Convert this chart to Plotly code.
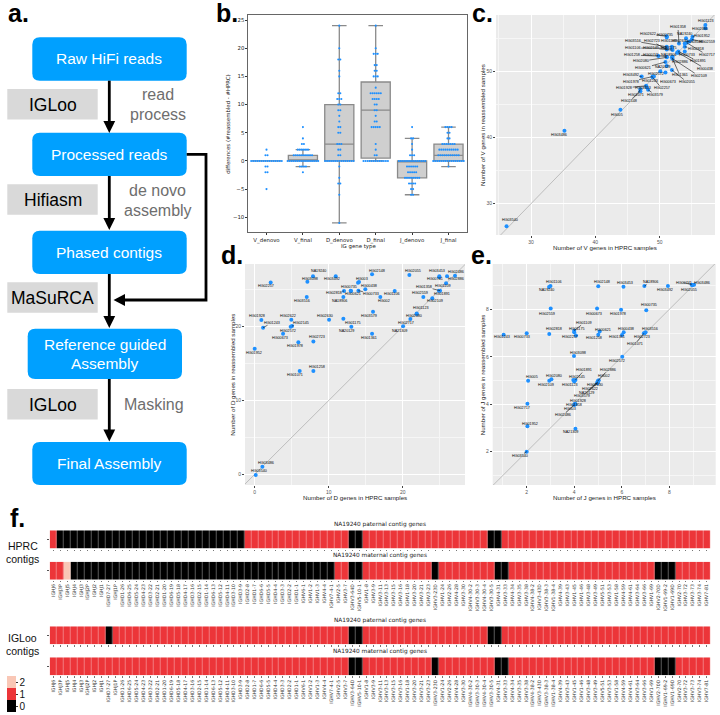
from collections import Counter
import plotly.graph_objects as go

W, H = 720, 715
SANS = "Liberation Sans"
DEJA = "DejaVu Sans"
BLUE = "#1E90FF"
FLOW_BLUE = "#00A0FF"
GREY_BOX = "#D9D9D9"
RED = "#EC3539"
LIGHT = "#F9C7B6"

# ---------- panel b ----------
IG_TYPES = ["V_denovo", "V_final", "D_denovo", "D_final", "J_denovo", "J_final"]
BOX_Q1 = [0, 0, 0, 0.5, -3, 0]
BOX_MEDIAN = [0, 0, 3, 9, 0, 1]
BOX_Q3 = [0, 1, 10, 14, 0, 3]
BOX_LOW = [0, -1, -11, 0, -6, -1]
BOX_HIGH = [0, 2, 24, 24, 4, 6]
V_DENOVO = [2, 1, 1, 0, 0, 0, 0, 0, 0, 0, 0, 0, 0, 0, 0, 0, 0, 0, 0, -1, -1, -2, -2, -5]
V_FINAL = [6, 4, 3, 3, 2, 2, 2, 2, 2, 2, 1, 1, 1, 1, 1, 1, 1, 1, 1, 1,
           0, 0, 0, 0, 0, 0, 0, 0, 0, 0, 0, 0, 0, 0, 0, 0, -1, -1, -1, -1, -2]
D_DENOVO = [24, 20, 18, 18, 16, 15, 12, 12, 11, 11, 11, 10, 10, 9, 9, 8, 7, 6, 6, 5, 5,
            3, 3, 3, 2, 2, 1, 1, 0, 0, 0, 0, 0, 0, 0, 0, 0, 0, 0, 0, 0, 0, 0,
            -1, -3, -4, -4, -6, -11]
D_FINAL = [24, 20, 19, 19, 19, 17, 17, 16, 16, 15, 15, 15, 13, 12, 12, 12, 12, 12, 12,
           11, 11, 11, 11, 10, 10, 9, 9, 8, 7, 7, 6, 6, 6, 6, 6, 3, 2, 1, 1,
           0, 0, 0, 0, 0, 0, 0, 0, 0, 0, 0, 0, 0]
J_DENOVO = [6, 4, 4, 3, 2, 1, 1, 1, 0, 0, 0, 0, 0, 0, 0, 0, 0, 0, 0, 0, 0, 0,
            -1, -1, -1, -1, -1, -1, -2, -2, -2, -2, -2, -3, -3, -3, -3, -3, -3, -3, -3,
            -4, -4, -4, -4, -5, -5, -6, -6]
J_FINAL = [6, 6, 6, 6, 5, 5, 4, 4, 3, 3, 3, 3, 3, 3, 3, 2, 2, 2, 2, 2, 2, 2, 2, 2, 2,
           1, 1, 1, 1, 1, 1, 1, 1, 1, 1, 1, 0, 0, 0, 0, 0, 0, 0, 0, 0, 0, 0, 0, 0, 0, 0, 0, -1]
SWARMS = [V_DENOVO, V_FINAL, D_DENOVO, D_FINAL, J_DENOVO, J_FINAL]

# ---------- panel c ----------
C_SAMPLES = ["HG01123", "HG02486", "HG01952", "HG02559", "HG03098", "HG01358", "NA19240", "HG02622",
             "HG00735", "HG01109", "HG02630", "HG03516", "HG02723", "HG01106", "HG02145", "HG01175",
             "HG02818", "HG02717", "HG01258", "HG00741", "NA18906", "HG00733", "HG02080", "HG01891",
             "HG02886", "HG00438", "HG02109", "HG01361", "HG00621", "NA20129", "HG03492", "HG02572",
             "HG02055", "HG00673", "HG01978", "HG01243", "HG02257", "HG01928", "HG03453", "HG01071",
             "HG03579", "HG02148", "HG005", "HG03486", "HG03540"]
C_HPRC = [57.1, 57.1, 55.1, 55.0, 54.6, 53.0, 54.1, 51.1, 51.1, 51.9, 53.9, 51.1, 51.1, 51.1, 52.0, 51.9,
          53.9, 54.2, 49.8, 51.1, 52.0, 53.9, 51.1, 52.9, 52.7, 52.9, 52.0, 51.9, 50.9, 51.1, 47.2, 50.1,
          51.9, 50.9, 48.9, 49.1, 48.9, 47.9, 48.0, 47.0, 48.2, 47.0, 43.9, 35.2, 26.2]
C_REASM = [57.0, 56.5, 55.2, 54.8, 54.5, 54.2, 55.0, 55.3, 55.1, 53.7, 54.2, 53.7, 53.3, 53.5, 53.2, 53.4,
           53.7, 54.3, 52.3, 52.2, 52.2, 53.0, 52.1, 53.0, 52.8, 52.8, 51.9, 52.1, 51.4, 50.8, 49.2, 50.0,
           50.2, 49.8, 49.2, 49.2, 49.1, 47.8, 47.6, 47.3, 47.2, 47.0, 44.2, 41.0, 26.6]
C_DX = [1, -5, 10, 15, 6, -1, -2, -19, -2, -3, -5, -34, -15, -34, -22, -3,
        11, 20, -26, -16, -4, 2, -26, 20, 3, 27, 26, 8, -22, -4, -11, -4,
        15, 3, -22, -4, 9, -22, -4, -4, 7, -11, -3, -5, 3]
C_DY = [-4, 1, -1, 3, 1, -16, -4, -2, -3, -6, -2, -6, -8, 0, -2, -1,
        2, 12, -1, -2, -2, 4, 4, 10, 9, 16, 17, 18, 6, 1, -2, 3,
        12, 9, 5, 4, 11, 2, 1, 6, 5, 10, 5, 4, -6]

# ---------- panel d ----------
D_SAMPLES = ["HG02257", "NA19240", "HG03098", "HG03492", "HG02148", "HG03516", "HG01928", "HG01243",
             "HG02622", "HG02145", "HG02572", "HG00673", "HG01978", "HG02723", "HG01952", "HG01258",
             "HG01071", "HG02630", "HG00735", "HG02818", "NA18906", "HG00621", "HG003", "", "HG00438",
             "HG00733", "HG01106", "HG002", "HG03579", "HG01175", "NA20129", "HG01361", "HG02055",
             "HG03453", "HG00741", "HG02486", "HG02886", "HG01109", "HG01358", "HG01891", "HG02559",
             "HG02109", "HG01123", "HG02080", "HG02717", "NA21309", "HG03540", "HG03486"]
D_HPRC = [2.16, 7.88, 7.12, 10.95, 15.86, 7.03, 0.9, 1.13, 4.95, 5.05, 4.86, 3.83, 5.9, 7.93, 0.0, 7.93,
          6.08, 10.05, 12.97, 12.07, 11.98, 13.02, 14.1, 13.96, 14.95, 14.01, 18.92, 16.98, 15.99, 11.98,
          13.06, 15.86, 20.9, 24.95, 24.95, 27.07, 25.99, 25.86, 25.05, 24.9, 22.79, 24.0, 21.89, 21.89,
          21.04, 20.05, 0.14, 1.04]
D_REASM = [26.0, 26.82, 26.1, 26.82, 27.09, 24.02, 20.9, 19.86, 20.95, 20.09, 20.0, 19.05, 17.88, 18.01,
           17.02, 14.0, 14.0, 20.95, 24.88, 24.83, 24.02, 24.83, 26.05, 25.96, 25.06, 24.88, 24.83, 24.02,
           22.03, 21.08, 20.0, 19.05, 27.0, 26.82, 26.68, 26.91, 26.82, 25.87, 24.88, 24.88, 24.02, 23.84,
           21.8, 21.72, 21.04, 20.05, -0.09, 1.04]
D_DX = [-5, 5, 3, -4, 5, -5, -4, 9, -3, 9, -3, -3, -3, 4, -1, 4, -5, -4, -2, -10, -4, 2, 3, 0, 4, 13,
        -3, 4, -4, 10, -5, -3, 4, -2, -4, 1, 9, -3, -16, 3, -3, 3, 4, -3, -4, -4, 3, 4]
D_DY = [4, -5, -3, 3, -3, 4, -4, -5, -4, -3, 4, 4, 4, -4, 4, -4, 4, -4, -4, 2, 4, 3, -3, 0, -3, 3,
        3, 4, 4, 4, 4, 4, -4, -5, 2, -4, 3, 3, -4, 3, -4, 3, -5, 2, 4, 5, -4, -4]

# ---------- panel e ----------
E_SAMPLES = ["HG01106", "NA19240", "HG02148", "HG03453", "NA18906", "HG03492", "HG00741", "HG03486",
             "HG02055", "HG02559", "HG00673", "HG01978", "HG00735", "HG01175", "HG01109", "HG02257",
             "HG02818", "HG01243", "HG00733", "HG00621", "HG01258", "HG00438", "HG01361", "HG03516",
             "HG02723", "HG01071", "HG03098", "HG02572", "HG005", "HG02080", "HG02109", "HG02145",
             "HG02717", "HG01123", "HG01891", "HG02886", "HG002", "HG02630", "HG02622", "NA20129",
             "HG03579", "HG01928", "HG01358", "HG003", "HG02486", "HG03540", "HG01952", "NA21309"]
E_HPRC = [3.0, 2.94, 5.01, 6.07, 6.95, 7.94, 8.94, 9.04, 8.97, 3.01, 4.96, 5.97, 7.03, 4.0, 4.0, 4.07,
          2.95, 1.03, 2.0, 5.07, 5.01, 6.08, 6.01, 7.0, 6.96, 6.93, 3.99, 6.02, 2.06, 3.04, 2.95, 3.96,
          2.03, 4.0, 4.05, 4.99, 5.03, 4.99, 4.97, 5.0, 4.97, 4.03, 4.05, 4.02, 4.0, 2.0, 2.03, 4.05]
E_REASM = [8.98, 8.94, 8.97, 8.95, 8.98, 8.98, 9.04, 9.04, 9.01, 8.03, 8.03, 7.98, 7.96, 7.03, 7.1, 6.9,
           6.96, 6.93, 6.99, 7.06, 6.93, 7.03, 6.92, 7.03, 6.99, 6.99, 6.03, 6.0, 4.99, 5.05, 4.99, 5.02,
           4.02, 4.96, 5.02, 4.98, 5.01, 4.95, 4.91, 4.95, 4.88, 4.02, 4.0, 4.0, 3.97, 2.0, 3.07, 2.97]
E_DX = [4, -3, 4, 2, 6, -3, -8, 8, -3, -4, -3, -3, 3, 3, 10, -6, 5, -2, -5, 3, -4, 2, -5, 4, -3, -9, 4, -5,
        4, 3, -3, 4, -5, -4, 9, 10, 5, -3, -7, -12, -15, 3, -1, -5, -11, -7, 3, -5]
E_DY = [-4, 3, -4, -4, -4, 4, -2, -2, 5, 5, 5, 4, -5, -3, -8, 2, -5, 2, 4, -2, 3, -3, 2, -3, 4, 11, -3, 4,
        -4, -3, 4, -3, 4, 4, -10, -11, -4, 3, 6, 11, 13, -3, 1, 5, 10, 4, -2, 3]

# ---------- panel f ----------
GENES = ["IGHJ6", "IGHJ3P", "IGHJ5", "IGHJ4", "IGHJ3", "IGHJ2P", "IGHJ2", "IGHJ1", "IGHD7-27", "IGHJ1P",
         "IGHD1-26", "IGHD6-25", "IGHD5-24", "IGHD4-23", "IGHD3-22", "IGHD2-21", "IGHD1-20", "IGHD6-19",
         "IGHD5-18", "IGHD4-17", "IGHD3-16", "IGHD2-15", "IGHD1-14", "IGHD6-13", "IGHD5-12", "IGHD4-11",
         "IGHD3-10", "IGHD3-9", "IGHD2-8", "IGHD1-7", "IGHD6-6", "IGHD5-5", "IGHD4-4", "IGHD3-3", "IGHD2-2",
         "IGHD1-1", "IGHV6-1", "IGHV1-2", "IGHV1-3", "IGHV4-4", "IGHV7-4-1", "IGHV2-5", "IGHV3-7", "IGHV3-64D",
         "IGHV5-10-1", "IGHV1-8", "IGHV3-9", "IGHV3-11", "IGHV3-13", "IGHV3-15", "IGHV3-16", "IGHV1-18",
         "IGHV3-20", "IGHV3-21", "IGHV3-23", "IGHV3-23D", "IGHV1-24", "IGHV2-26", "IGHV4-28", "IGHV3-30",
         "IGHV4-30-2", "IGHV3-30-3", "IGHV4-30-4", "IGHV3-30-5", "IGHV4-31", "IGHV3-33", "IGHV4-34", "IGHV3-35",
         "IGHV3-38", "IGHV4-38-2", "IGHV3-43D", "IGHV3-38-3", "IGHV1-38-4", "IGHV4-39", "IGHV3-43", "IGHV1-45",
         "IGHV1-46", "IGHV3-48", "IGHV3-49", "IGHV5-51", "IGHV3-53", "IGHV1-58", "IGHV4-59", "IGHV4-61",
         "IGHV3-64", "IGHV3-66", "IGHV1-69", "IGHV2-70D", "IGHV1-69-2", "IGHV1-69D", "IGHV2-70", "IGHV3-72",
         "IGHV3-73", "IGHV3-74", "IGHV7-81"]
HPRC_PATERNAL = [1, 0, 0, 0, 0, 0, 0, 0, 0, 0,
                 0, 0, 0, 0, 0, 0, 0, 0, 0, 0,
                 0, 0, 0, 0, 0, 0, 0, 0, 1, 1,
                 1, 1, 1, 1, 1, 1, 1, 1, 1, 1,
                 1, 1, 1, 0, 0, 1, 1, 1, 1, 1,
                 1, 1, 1, 1, 1, 1, 1, 1, 1, 1,
                 1, 1, 1, 0, 0, 1, 1, 1, 1, 1,
                 1, 1, 1, 1, 1, 1, 1, 1, 1, 1,
                 1, 1, 1, 1, 1, 1, 1, 1, 1, 1,
                 1, 1, 1, 1, 1]
HPRC_MATERNAL = [1, 1, 2, 0, 0, 0, 0, 0, 0, 0,
                 0, 0, 0, 0, 0, 0, 0, 0, 0, 0,
                 0, 0, 0, 0, 0, 0, 0, 0, 0, 0,
                 0, 0, 0, 0, 0, 0, 0, 0, 0, 0,
                 0, 1, 1, 0, 0, 1, 1, 1, 1, 1,
                 1, 1, 1, 1, 1, 0, 1, 1, 1, 1,
                 1, 1, 1, 1, 0, 0, 1, 1, 1, 1,
                 1, 1, 1, 1, 1, 1, 1, 1, 1, 1,
                 1, 1, 1, 1, 1, 1, 1, 0, 0, 0,
                 1, 1, 1, 1, 1]
IGLOO_PATERNAL = [1, 1, 1, 1, 1, 1, 1, 1, 0, 1,
                  1, 1, 1, 1, 1, 1, 1, 1, 1, 1,
                  1, 1, 1, 1, 1, 1, 1, 1, 1, 1,
                  1, 1, 1, 1, 1, 1, 1, 1, 1, 1,
                  1, 1, 1, 0, 0, 1, 1, 1, 1, 1,
                  1, 1, 1, 1, 1, 1, 1, 1, 1, 1,
                  1, 1, 1, 0, 0, 1, 1, 1, 1, 1,
                  1, 1, 1, 1, 1, 1, 1, 1, 1, 1,
                  1, 1, 1, 1, 1, 1, 1, 1, 1, 1,
                  1, 1, 1, 1, 1]
IGLOO_MATERNAL = [1, 1, 1, 1, 1, 1, 1, 1, 1, 1,
                  1, 1, 1, 1, 1, 1, 1, 1, 1, 1,
                  1, 1, 1, 1, 1, 1, 1, 1, 1, 1,
                  1, 1, 1, 1, 1, 1, 1, 1, 1, 1,
                  1, 1, 1, 0, 0, 1, 1, 1, 1, 1,
                  1, 1, 1, 1, 1, 0, 1, 1, 1, 1,
                  1, 1, 1, 1, 0, 0, 1, 1, 1, 1,
                  1, 1, 1, 1, 1, 1, 1, 1, 1, 1,
                  1, 1, 1, 1, 1, 1, 1, 0, 0, 0,
                  1, 1, 1, 1, 1]


def X(px):
    return px / W


def Y(py):
    return 1 - py / H


def dom(l, t, r, b):
    return dict(domain=[X(l), X(r)]), dict(domain=[Y(b), Y(t)])


fig = go.Figure()
annotations = []
shapes = []


def text(px, py, s, size, color="black", family=SANS, anchor="center", angle=0, bold=False):
    annotations.append(dict(
        x=X(px), y=Y(py), xref="paper", yref="paper", text=f"<b>{s}</b>" if bold else s,
        showarrow=False, xanchor=anchor, yanchor="middle", textangle=angle,
        font=dict(size=size, color=color, family=family), borderpad=0))


# ---------- a: flowchart ----------
def round_rect(l, t, r, b, rad=7.5):
    p = [f"M {X(l+rad)} {Y(t)}", f"L {X(r-rad)} {Y(t)}", f"Q {X(r)} {Y(t)} {X(r)} {Y(t+rad)}",
         f"L {X(r)} {Y(b-rad)}", f"Q {X(r)} {Y(b)} {X(r-rad)} {Y(b)}", f"L {X(l+rad)} {Y(b)}",
         f"Q {X(l)} {Y(b)} {X(l)} {Y(b-rad)}", f"L {X(l)} {Y(t+rad)}", f"Q {X(l)} {Y(t)} {X(l+rad)} {Y(t)} Z"]
    shapes.append(dict(type="path", path=" ".join(p), xref="paper", yref="paper",
                       fillcolor=FLOW_BLUE, line=dict(width=0)))


FLOW = [(32.3, 37.3, 186.7, 80.7, ["Raw HiFi reads"]),
        (32.3, 132.7, 186.7, 176, ["Processed reads"]),
        (32.3, 230.7, 186.7, 274, ["Phased contigs"]),
        (27.7, 328.7, 182, 379, ["Reference guided", "Assembly"]),
        (32.3, 442, 186.7, 485, ["Final Assembly"])]
for l, t, r, b, lines in FLOW:
    round_rect(l, t, r, b)
    cx, cy = (l + r) / 2, (t + b) / 2
    for i, s in enumerate(lines):
        text(cx, cy + (i - (len(lines) - 1) / 2) * 19.5, s, 15.5, "white")

for t, s in [(89, "IGLoo"), (184.3, "Hifiasm"), (282.3, "MaSuRCA"), (389, "IGLoo")]:
    shapes.append(dict(type="rect", xref="paper", yref="paper", x0=X(7.3), x1=X(97.7), y0=Y(t), y1=Y(t + 30.5),
                       fillcolor=GREY_BOX, line=dict(width=0)))
    text(52.5, t + 15.5, s, 17.5)


def seg(pts):
    path = "M " + " L ".join(f"{X(x)} {Y(y)}" for x, y in pts)
    shapes.append(dict(type="path", path=path, xref="paper", yref="paper", line=dict(color="black", width=2.8)))


def head(pts):
    path = "M " + " L ".join(f"{X(x)} {Y(y)}" for x, y in pts) + " Z"
    shapes.append(dict(type="path", path=path, xref="paper", yref="paper", fillcolor="black", line=dict(width=0)))


for t, b in [(80.7, 133), (176, 230), (274, 328), (379, 441.5)]:
    seg([(109.3, t), (109.3, b - 9)])
    head([(103.4, b - 12), (115.2, b - 12), (109.3, b)])
seg([(186.7, 154.3), (206, 154.3), (206, 300), (122, 300)])
head([(125, 294), (125, 306), (113.5, 300)])

for px, py, s in [(157.7, 94.3, "read"), (157.7, 114.3, "process"), (157.7, 190.7, "de novo"),
                  (157.7, 210.7, "assembly"), (153.7, 404.3, "Masking")]:
    text(px, py, s, 16, "#6E6E6E")

# panel letters
for px, py, s in [(7, 13, "a."), (215, 13, "b."), (470.5, 13, "c."), (220, 255, "d."), (470, 255, "e."), (9, 518, "f.")]:
    text(px, py, s, 25, anchor="left", bold=True)

# ---------- b ----------
xa, ya = dom(248.3, 15, 466.7, 232.3)
lay = {}
lay["xaxis"] = dict(**xa, anchor="y", range=[-0.5, 5.5], tickvals=list(range(6)), ticktext=IG_TYPES,
                    showgrid=False, zeroline=False, showline=True, mirror=True, linecolor="#666", linewidth=0.8,
                    ticks="outside", ticklen=2, tickwidth=0.6, tickcolor="#333",
                    tickfont=dict(size=5.4, family=DEJA, color="#222"))
lay["yaxis"] = dict(**ya, anchor="x", range=[-12.66, 25.89], tickvals=[-10, -5, 0, 5, 10, 15, 20, 25],
                    ticktext=["\u221210", "\u22125", "0", "5", "10", "15", "20", "25"],
                    showgrid=False, zeroline=False, showline=True, mirror=True, linecolor="#666", linewidth=0.8,
                    ticks="outside", ticklen=2, tickwidth=0.6, tickcolor="#333",
                    tickfont=dict(size=5.4, family=DEJA, color="#222"))
for i, name in enumerate(IG_TYPES):
    fig.add_trace(go.Box(x=[i], q1=[BOX_Q1[i]], median=[BOX_MEDIAN[i]], q3=[BOX_Q3[i]],
                         lowerfence=[BOX_LOW[i]], upperfence=[BOX_HIGH[i]], width=0.8, whiskerwidth=0.5,
                         fillcolor="#CFCFCF", line=dict(color="#8A8A8A", width=1.3), boxpoints=False,
                         name=name, showlegend=False, xaxis="x", yaxis="y"))
STEP = 0.056
for i, vals in enumerate(SWARMS):
    seen = Counter()
    counts = Counter(vals)
    xs = []
    for v in vals:
        xs.append(i + (seen[v] - (counts[v] - 1) / 2) * STEP)
        seen[v] += 1
    fig.add_trace(go.Scatter(x=xs, y=vals, mode="markers", marker=dict(color=BLUE, size=2.1), showlegend=False,
                             xaxis="x", yaxis="y"))
text(358, 246.3, "IG gene type", 5.4, "#222", DEJA)
text(227.7, 124, "differences (#reassembled - #HPRC)", 5.4, "#222", DEJA, angle=-90)


# ---------- c, d, e scatter panels ----------
def scatter_panel(idx, box, xrange, yrange, xtv, ytv, minor, samples, xs, ys, dxs, dys, xt, yt, xt_pos, yt_pos):
    sfx = str(idx)
    xa, ya = dom(*box)
    common = dict(showgrid=True, gridcolor="white", gridwidth=1.1, zeroline=False, showline=False,
                  ticks="outside", ticklen=2, tickwidth=0.5, tickcolor="#444",
                  tickfont=dict(size=5, family=SANS, color="#555"),
                  minor=dict(showgrid=True, gridcolor="#F6F6F6", gridwidth=0.5, dtick=minor, tick0=0, ticks=""))
    lay["xaxis" + sfx] = dict(**xa, anchor="y" + sfx, range=xrange, tickvals=xtv, **common)
    lay["yaxis" + sfx] = dict(**ya, anchor="x" + sfx, range=yrange, tickvals=ytv, **common)
    shapes.append(dict(type="rect", xref=f"x{sfx} domain", yref=f"y{sfx} domain", x0=0, x1=1, y0=0, y1=1,
                       layer="below", fillcolor="#EBEBEB", line=dict(width=0)))
    lo, hi = min(xrange + yrange), max(xrange + yrange)
    shapes.append(dict(type="line", xref="x" + sfx, yref="y" + sfx, x0=lo, y0=lo, x1=hi, y1=hi, layer="between",
                       line=dict(color="#BDBDBD", width=1)))
    fig.add_trace(go.Scatter(x=xs, y=ys, text=samples, mode="markers", marker=dict(color=BLUE, size=4),
                             showlegend=False, xaxis="x" + sfx, yaxis="y" + sfx))
    for s, x, y, dx, dy in zip(samples, xs, ys, dxs, dys):
        if not s:
            continue
        visible = dx * dx + dy * dy > 50
        annotations.append(dict(x=x, y=y, xref="x" + sfx, yref="y" + sfx, ax=dx, ay=dy, text=s,
                                showarrow=True, arrowhead=0, arrowwidth=0.6, standoff=0, borderpad=0,
                                arrowcolor="#111" if visible else "rgba(0,0,0,0)",
                                font=dict(size=3.7, family=SANS, color="black")))
    text(*xt_pos, xt, 6.2, "#222")
    text(*yt_pos, yt, 6.2, "#222", angle=-90)


scatter_panel(2, (496, 15, 715, 235), [24.56, 58.6], [25.27, 58.5], [30, 40, 50], [30, 40, 50], 5,
              C_SAMPLES, C_HPRC, C_REASM, C_DX, C_DY,
              "Number of V genes in HPRC samples", "Number of V genes in reassembled samples",
              (605, 247.5), (483, 125))
scatter_panel(3, (245, 264, 465, 485), [-1.31, 28.42], [-1.44, 28.49], [0, 10, 20], [0, 10, 20], 5,
              D_SAMPLES, D_HPRC, D_REASM, D_DX, D_DY,
              "Number of D genes in HPRC samples", "Number of D genes in reassembled samples",
              (355, 497.5), (231.7, 375))
scatter_panel(4, (492.7, 264, 715.7, 485), [0.57, 9.95], [0.596, 9.91], [2, 4, 6, 8], [2, 4, 6, 8], 1,
              E_SAMPLES, E_HPRC, E_REASM, E_DX, E_DY,
              "Number of J genes in HPRC samples", "Number of J genes in reassembled samples",
              (604, 497.5), (482.3, 375))

# ---------- f heatmaps ----------
ROWS = [(530.3, 548.7, HPRC_PATERNAL, False, "NA19240 paternal contig genes", 524.7),
        (561.7, 579.7, HPRC_MATERNAL, True, "NA19240 maternal contig genes", 555.7),
        (626.3, 644.3, IGLOO_PATERNAL, False, "NA19240 paternal contig genes", 620.3),
        (657.3, 675.3, IGLOO_MATERNAL, True, "NA19240 maternal contig genes", 651.3)]
for k, (t, b, row, labels, title, ty) in enumerate(ROWS):
    sfx = str(5 + k)
    xa, ya = dom(49.7, t, 710.3, b)
    lay["xaxis" + sfx] = dict(**xa, anchor="y" + sfx, type="category", tickmode="linear", dtick=1, tick0=0,
                              showgrid=False, zeroline=False, showline=False, ticks="outside", ticklen=1.5,
                              tickwidth=0.4, tickcolor="#777", showticklabels=labels, tickangle=-90,
                              tickfont=dict(size=4.7, family=DEJA, color="#333"))
    lay["yaxis" + sfx] = dict(**ya, anchor="x" + sfx, tickvals=[0], showticklabels=False, showgrid=False,
                              zeroline=False, showline=False, ticks="outside", ticklen=1.5, tickwidth=0.5,
                              tickcolor="#555")
    fig.add_trace(go.Heatmap(z=[row], x=GENES, y=[0], coloraxis="coloraxis", xgap=0.35, showscale=False,
                             xaxis="x" + sfx, yaxis="y" + sfx))
    text(380, ty, title, 5.8, "#222", DEJA)

text(22.7, 546, "HPRC", 10.5, "#111")
text(22.7, 559, "contigs", 10.5, "#111")
text(22.7, 637.5, "IGLoo", 10.5, "#111")
text(22.7, 650.5, "contigs", 10.5, "#111")

c = 1 / 3
fig.update_layout(
    width=W, height=H, template="none", showlegend=False,
    margin=dict(l=0, r=0, t=0, b=0, pad=0, autoexpand=False),
    paper_bgcolor="white", plot_bgcolor="white",
    annotations=annotations, shapes=shapes,
    coloraxis=dict(cmin=-0.5, cmax=2.5,
                   colorscale=[[0, "black"], [c, "black"], [c, RED], [2 * c, RED], [2 * c, LIGHT], [1, LIGHT]],
                   colorbar=dict(x=X(6.7), xanchor="left", y=Y(694), yanchor="middle", len=36, lenmode="pixels",
                                 thickness=8.6, thicknessmode="pixels", xpad=0, ypad=0, outlinewidth=0,
                                 tickvals=[0, 1, 2], ticks="outside", ticklen=2, tickwidth=0.6, tickcolor="#333",
                                 tickfont=dict(size=10, family=SANS, color="#111"))),
    **lay)
fig.write_html("out.html", config={"displayModeBar": False},
               post_script="document.body.style.margin='0';document.body.style.overflow='hidden';")
